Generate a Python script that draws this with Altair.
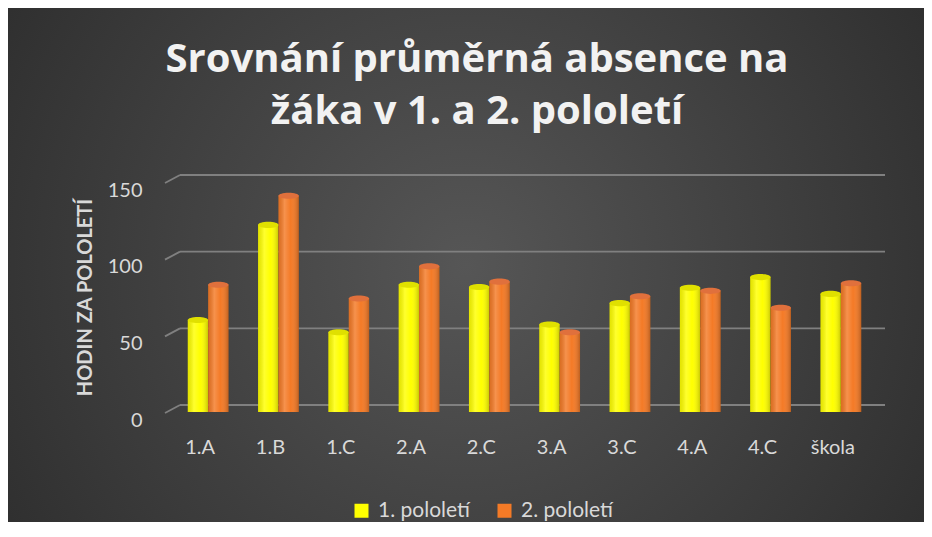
import altair as alt
import pandas as pd

categories = ["1.A", "1.B", "1.C", "2.A", "2.C", "3.A", "3.C", "4.A", "4.C", "škola"]
semester_names = ["1. pololetí", "2. pololetí"]
h1 = [60, 122, 52, 83, 81.5, 57, 71, 81, 88, 77]
h2 = [83, 141, 74, 95, 85, 52, 75.5, 79, 68, 84]
grid_values = [0, 50, 100, 150]
title_text = "Srovnání průměrná absence  na\nžáka v 1. a 2. pololetí"
bar_colors = ["#ffff00", "#f47a26"]
cap_colors = ["#e0e000", "#e0703c"]

rows = []
for c, a, b in zip(categories, h1, h2):
    rows.append({"trida": c, "pololeti": semester_names[0], "hodiny": a})
    rows.append({"trida": c, "pololeti": semester_names[1], "hodiny": b})
df = pd.DataFrame(rows)
grid_df = pd.DataFrame({"hodiny": grid_values})
bg_df = pd.DataFrame({"hodiny": [0]})
title_df = pd.DataFrame({"t": [title_text]})

W, H = 703, 230
PAD = {"left": 165, "top": 174, "right": 48, "bottom": 110}
FONT = "Lato"
TXT = "#d9d9d9"

x_enc = alt.X(
    "trida:N", sort=categories,
    scale=alt.Scale(paddingInner=0.42, paddingOuter=0.21),
    axis=alt.Axis(title=None, labelOffset=-8, labelPadding=25, labelFontSize=20,
                  labelFont=FONT, labelColor=TXT, domain=False, ticks=False,
                  labelAngle=0, grid=False, zindex=1),
)
xoff = alt.XOffset("pololeti:N", sort=semester_names,
                   scale=alt.Scale(paddingInner=0, paddingOuter=0))
y_enc = alt.Y(
    "hodiny:Q", scale=alt.Scale(domain=[0, 150], nice=False),
    axis=alt.Axis(values=grid_values, title="HODIN ZA POLOLETÍ", grid=False,
                  domain=False, ticks=False, labelFontSize=20, labelFont=FONT,
                  labelColor=TXT, labelPadding=31, labelOffset=8,
                  titleFont=FONT, titleFontSize=20, titleFontWeight="bold",
                  titleColor=TXT, titleAngle=270, titleX=-88, titleY=115,
                  titleAlign="center", titleBaseline="middle", zindex=1),
)

background = alt.Chart(bg_df).mark_rect(
    fill=alt.RadialGradient(
        gradient="radial",
        stops=[alt.GradientStop(color="#565656", offset=0),
               alt.GradientStop(color="#262626", offset=1)],
        x1=0.5, y1=0.5, r1=0, x2=0.5, y2=0.5, r2=0.72,
    )
).encode(
    x=alt.value(-PAD["left"]), x2=alt.value(W + PAD["right"]),
    y=alt.value(-PAD["top"]), y2=alt.value(H + PAD["bottom"]),
)

title = alt.Chart(title_df).mark_text(
    font="Open Sans", fontSize=40, fontWeight="bold", color="#f2f2f2",
    align="center", baseline="alphabetic", lineBreak="\n", lineHeight=51.5,
).encode(text="t:N", x=alt.value(304), y=alt.value(-110))

grid_back = alt.Chart(grid_df).mark_rule(
    color="#808080", strokeWidth=1.8, yOffset=-7
).encode(y=y_enc, x=alt.value(7), x2=alt.value(W + 9))

grid_side = alt.Chart(grid_df).mark_rule(
    color="#808080", strokeWidth=1.8, yOffset=1, y2Offset=-7
).encode(y=y_enc, y2="hodiny:Q", x=alt.value(-8), x2=alt.value(7))

bars = alt.Chart(df).mark_bar().encode(
    x=x_enc, xOffset=xoff, y=y_enc,
    color=alt.Color(
        "pololeti:N",
        scale=alt.Scale(domain=semester_names, range=bar_colors),
        legend=alt.Legend(title=None, orient="none", legendX=178, legendY=318,
                          direction="horizontal", symbolType="square",
                          symbolSize=196, symbolStrokeWidth=0,
                          labelFontSize=21, labelFont=FONT, labelColor=TXT,
                          columnPadding=24, labelOffset=6),
    ),
)

shade = alt.Chart(df).mark_bar(
    fill=alt.LinearGradient(
        gradient="linear",
        stops=[alt.GradientStop(color="rgba(0,0,0,0.10)", offset=0),
               alt.GradientStop(color="rgba(255,255,255,0.18)", offset=0.3),
               alt.GradientStop(color="rgba(255,255,255,0.0)", offset=0.6),
               alt.GradientStop(color="rgba(0,0,0,0.22)", offset=1)],
        x1=0, x2=1, y1=0, y2=0,
    )
).encode(x=x_enc, xOffset=xoff, y=y_enc)

ellipse = "M -1 0 A 1 0.3 0 1 1 1 0 A 1 0.3 0 1 1 -1 0 Z"
caps = alt.Chart(df).mark_point(
    shape=ellipse, size=420, filled=True, opacity=1, strokeWidth=0
).encode(
    x=x_enc, xOffset=xoff, y=y_enc,
    color=alt.Color("pololeti:N",
                    scale=alt.Scale(domain=semester_names, range=cap_colors),
                    legend=None),
)

chart = alt.layer(background, title, grid_back, grid_side, bars, shade, caps).resolve_scale(
    color="independent"
).properties(
    width=W, height=H,
    padding=PAD,
    autosize=alt.AutoSizeParams(type="none"),
    background="#2a2a2a",
).configure_view(stroke=None)

chart.save("out.html", embed_options={"renderer": "svg", "actions": False})
